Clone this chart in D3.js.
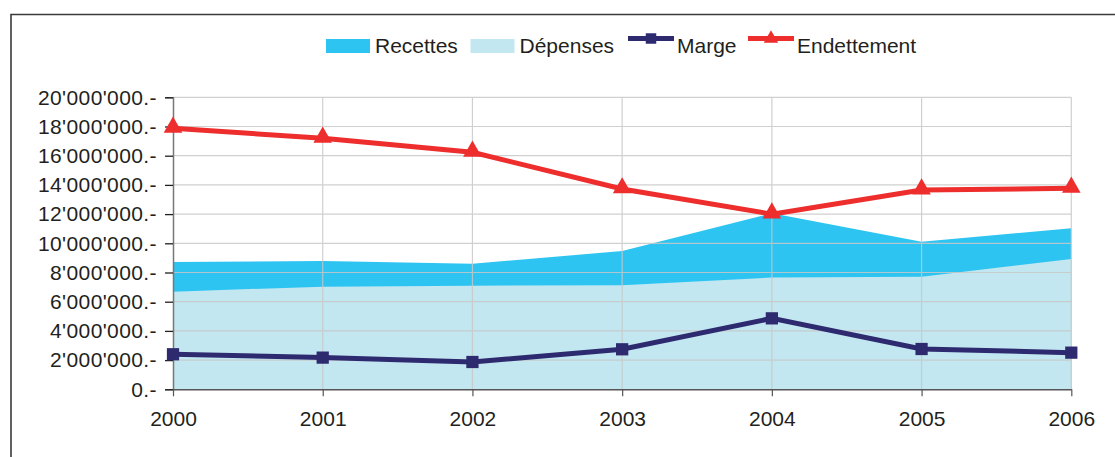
<!DOCTYPE html>
<html><head><meta charset="utf-8">
<script src="https://cdn.jsdelivr.net/npm/d3@7"></script>
<style>body{margin:0;background:#fff}svg{display:block}text{font-family:"Liberation Sans",Arial,sans-serif;fill:#231f20}</style>
</head><body>
<svg id="c" width="1115" height="457"></svg>
<script>
const years = ["2000","2001","2002","2003","2004","2005","2006"];
const recettes = [8720000, 8790000, 8600000, 9470000, 12050000, 10110000, 11030000];
const depenses = [6690000, 7030000, 7100000, 7120000, 7650000, 7710000, 8920000];
const marge = [2400000, 2170000, 1870000, 2740000, 4860000, 2760000, 2510000];
const endettement = [17880000, 17190000, 16230000, 13720000, 12000000, 13650000, 13770000];
const yTicks = [0,2000000,4000000,6000000,8000000,10000000,12000000,14000000,16000000,18000000,20000000];
const legendItems = [
  {name:"Recettes", type:"area", color:"#2ec4f2"},
  {name:"Dépenses", type:"area", color:"#c2e7f0"},
  {name:"Marge", type:"square", color:"#2e2a6f"},
  {name:"Endettement", type:"triangle", color:"#ee2d2d"}
];

const svg = d3.select("#c");
const x = d3.scalePoint().domain(years).range([173, 1071.3]);
const y = d3.scaleLinear().domain([0, 20000000]).range([389.3, 97.3]);
const loc = d3.formatLocale({decimal:".", thousands:"'", grouping:[3], currency:["",""]});
const fmt = v => loc.format(",")(v) + ".-";

// frame
svg.append("path").attr("d","M11,457V14.5H1115").attr("fill","none").attr("stroke","#3a3a3a").attr("stroke-width",1.6);

// areas
const area = vals => d3.area().x((d,i)=>x(years[i])).y0(y(0)).y1(d=>y(d))(vals);
svg.append("path").attr("d", area(recettes)).attr("fill", legendItems[0].color);
svg.append("path").attr("d", area(depenses)).attr("fill", legendItems[1].color);

// gridlines
const grid = svg.append("g").attr("stroke","#c8c8c8").attr("stroke-width",1.2).attr("opacity",0.85);
yTicks.filter(t=>t>0).forEach(t=>grid.append("line").attr("x1",173).attr("x2",1071.3).attr("y1",y(t)).attr("y2",y(t)));
years.slice(1).forEach(yr=>grid.append("line").attr("x1",x(yr)).attr("x2",x(yr)).attr("y1",y(20000000)).attr("y2",y(0)));

// axes
const yAxis = d3.axisLeft(y).tickValues(yTicks).tickFormat(fmt).tickSize(8).tickPadding(8);
const gy = svg.append("g").attr("transform","translate(173,0)").call(yAxis);
gy.select(".domain").attr("stroke","#777").attr("stroke-width",1.5);
gy.selectAll(".tick line").attr("stroke","#231f20").attr("stroke-width",1.3);
gy.selectAll(".tick text").attr("font-size",21).attr("fill","#231f20").attr("letter-spacing","0.4px").attr("font-family","Liberation Sans, Arial, sans-serif");

const xAxis = d3.axisBottom(x).tickSize(7).tickPadding(15).tickSizeOuter(0);
const gx = svg.append("g").attr("transform",`translate(0,${y(0)})`).call(xAxis);
gx.select(".domain").attr("stroke","#555").attr("stroke-width",1.5);
gx.selectAll(".tick line").attr("stroke","#555").attr("stroke-width",1.2);
gx.selectAll(".tick text").attr("font-size",21).attr("fill","#231f20").attr("font-family","Liberation Sans, Arial, sans-serif");

// lines
const line = vals => d3.line().x((d,i)=>x(years[i])).y(d=>y(d))(vals);
svg.append("path").attr("d", line(marge)).attr("fill","none").attr("stroke",legendItems[2].color).attr("stroke-width",5);
svg.append("path").attr("d", line(endettement)).attr("fill","none").attr("stroke",legendItems[3].color).attr("stroke-width",5);

const sq = d3.symbol().type(d3.symbolSquare).size(150);
const tri = d3.symbol().type(d3.symbolTriangle).size(150);
svg.append("g").selectAll("path").data(marge).join("path")
  .attr("d", sq).attr("transform",(d,i)=>`translate(${x(years[i])},${y(d)})`).attr("fill",legendItems[2].color);
svg.append("g").selectAll("path").data(endettement).join("path")
  .attr("d", tri).attr("transform",(d,i)=>`translate(${x(years[i])},${y(d)-1})`).attr("fill",legendItems[3].color);

// legend
const legX = [326, 470.5, 628, 748];
const lg = svg.append("g");
legendItems.forEach((it,i)=>{
  const g = lg.append("g").attr("transform",`translate(${legX[i]},0)`);
  if(it.type==="area"){
    g.append("rect").attr("x",0).attr("y",39).attr("width",44).attr("height",14).attr("fill",it.color);
  } else {
    g.append("line").attr("x1",0).attr("x2",46).attr("y1",38.5).attr("y2",38.5).attr("stroke",it.color).attr("stroke-width",5);
    g.append("path").attr("d", it.type==="square" ? d3.symbol().type(d3.symbolSquare).size(110)() : d3.symbol().type(d3.symbolTriangle).size(90)())
      .attr("transform","translate(23,38.5)").attr("fill",it.color);
  }
  g.append("text").attr("x",49).attr("y",53).attr("font-size",21).text(it.name);
});
</script>
</body></html>
